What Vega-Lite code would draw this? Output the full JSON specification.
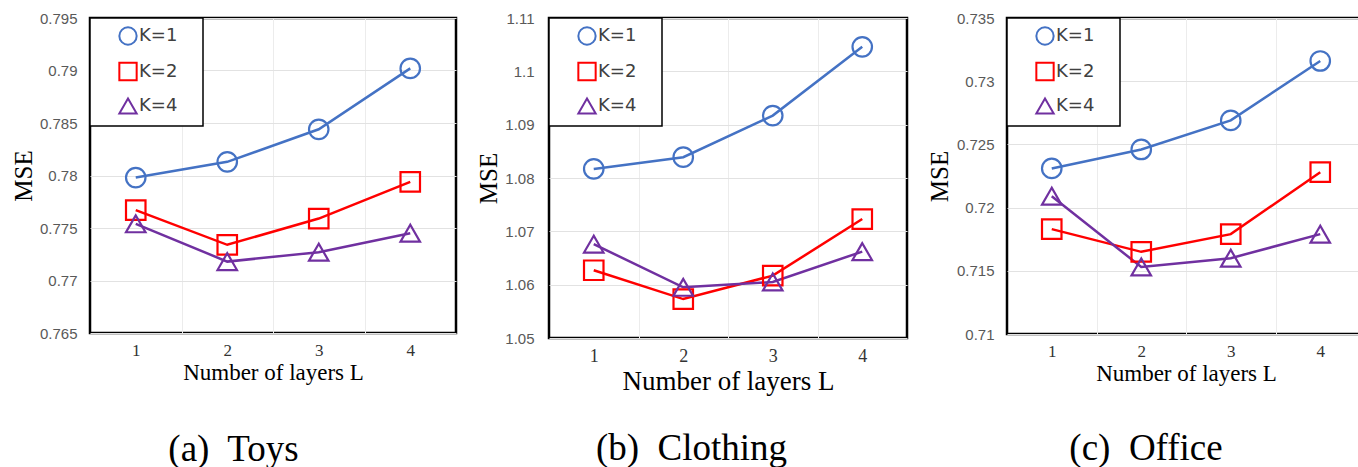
{
  "$schema": "https://vega.github.io/schema/vega-lite/v6.json",
  "background": "white",
  "padding": {"left": 9, "top": 9, "right": 0, "bottom": 0},
  "spacing": 16,
  "datasets": {
    "mse": [
      {"dataset": "Toys", "K": "K=1", "L": 1, "mse": 0.7798},
      {"dataset": "Toys", "K": "K=1", "L": 2, "mse": 0.7813},
      {"dataset": "Toys", "K": "K=1", "L": 3, "mse": 0.7844},
      {"dataset": "Toys", "K": "K=1", "L": 4, "mse": 0.7902},
      {"dataset": "Toys", "K": "K=2", "L": 1, "mse": 0.7767},
      {"dataset": "Toys", "K": "K=2", "L": 2, "mse": 0.7734},
      {"dataset": "Toys", "K": "K=2", "L": 3, "mse": 0.7759},
      {"dataset": "Toys", "K": "K=2", "L": 4, "mse": 0.7794},
      {"dataset": "Toys", "K": "K=4", "L": 1, "mse": 0.7754},
      {"dataset": "Toys", "K": "K=4", "L": 2, "mse": 0.7718},
      {"dataset": "Toys", "K": "K=4", "L": 3, "mse": 0.7727},
      {"dataset": "Toys", "K": "K=4", "L": 4, "mse": 0.7745},
      {"dataset": "Clothing", "K": "K=1", "L": 1, "mse": 1.0817},
      {"dataset": "Clothing", "K": "K=1", "L": 2, "mse": 1.0839},
      {"dataset": "Clothing", "K": "K=1", "L": 3, "mse": 1.0917},
      {"dataset": "Clothing", "K": "K=1", "L": 4, "mse": 1.1046},
      {"dataset": "Clothing", "K": "K=2", "L": 1, "mse": 1.0627},
      {"dataset": "Clothing", "K": "K=2", "L": 2, "mse": 1.0573},
      {"dataset": "Clothing", "K": "K=2", "L": 3, "mse": 1.0617},
      {"dataset": "Clothing", "K": "K=2", "L": 4, "mse": 1.0723},
      {"dataset": "Clothing", "K": "K=4", "L": 1, "mse": 1.0676},
      {"dataset": "Clothing", "K": "K=4", "L": 2, "mse": 1.0595},
      {"dataset": "Clothing", "K": "K=4", "L": 3, "mse": 1.0605},
      {"dataset": "Clothing", "K": "K=4", "L": 4, "mse": 1.0662},
      {"dataset": "Office", "K": "K=1", "L": 1, "mse": 0.7231},
      {"dataset": "Office", "K": "K=1", "L": 2, "mse": 0.7246},
      {"dataset": "Office", "K": "K=1", "L": 3, "mse": 0.7269},
      {"dataset": "Office", "K": "K=1", "L": 4, "mse": 0.7316},
      {"dataset": "Office", "K": "K=2", "L": 1, "mse": 0.7183},
      {"dataset": "Office", "K": "K=2", "L": 2, "mse": 0.7165},
      {"dataset": "Office", "K": "K=2", "L": 3, "mse": 0.7179},
      {"dataset": "Office", "K": "K=2", "L": 4, "mse": 0.7228},
      {"dataset": "Office", "K": "K=4", "L": 1, "mse": 0.7209},
      {"dataset": "Office", "K": "K=4", "L": 2, "mse": 0.7153},
      {"dataset": "Office", "K": "K=4", "L": 3, "mse": 0.7160},
      {"dataset": "Office", "K": "K=4", "L": 4, "mse": 0.7179}
    ]
  },
  "config": {
    "view": {"stroke": "black", "strokeWidth": 2.5},
    "axisY": {
      "ticks": false, "domain": false,
      "labelFont": "Liberation Sans", "labelFontSize": 15, "labelColor": "#595959", "labelPadding": 13,
      "minExtent": 54, "maxExtent": 54,
      "titleFont": "Liberation Serif", "titleFontSize": 25, "titleFontWeight": "normal", "titleColor": "black", "titlePadding": 0,
      "gridColor": "#e2e2e2", "gridWidth": 1
    },
    "axisX": {
      "ticks": false, "domain": false, "labelAngle": 0, "format": "d",
      "labelFont": "Liberation Serif", "labelFontSize": 17, "labelColor": "#333333", "labelPadding": 9,
      "titleFont": "Liberation Serif", "titleFontSize": 23, "titleFontWeight": "normal", "titleColor": "black", "titlePadding": 3,
      "gridColor": "#ececec", "gridWidth": 1
    },
    "legend": {
      "orient": "top-left", "offset": 0,
      "strokeColor": "black", "strokeWidth": 1.5, "fillColor": "white",
      "padding": 8, "rowPadding": 9.5, "symbolOffset": 20,
      "labelFont": "DejaVu Sans", "labelFontSize": 18, "labelColor": "#404040", "labelOffset": 1,
      "symbolSize": 300, "symbolStrokeWidth": 2, "symbolFillColor": "transparent",
      "titleOrient": "right", "titlePadding": 17, "titleFontSize": 2, "titleColor": "white"
    },
    "title": {
      "font": "Liberation Serif", "fontSize": 37, "fontWeight": "normal", "color": "black",
      "orient": "bottom", "frame": "bounds", "anchor": "middle"
    }
  },
  "hconcat": [
    {
      "width": 366, "height": 315,
      "data": {"name": "mse"},
      "transform": [{"filter": "datum.dataset == 'Toys'"}],
      "title": {"text": "(a)\u00a0 Toys", "offset": 48},
      "encoding": {
        "x": {"field": "L", "type": "quantitative", "scale": {"domain": [0.5, 4.5], "nice": false},
          "axis": {"title": "Number of layers L", "values": [1, 1.5, 2, 2.5, 3, 3.5, 4],
            "labelExpr": "datum.value % 1 == 0 ? datum.label : ''",
            "gridOpacity": {"condition": {"test": "datum.value % 1 != 0", "value": 1}, "value": 0}}},
        "y": {"field": "mse", "type": "quantitative", "scale": {"domain": [0.765, 0.795], "zero": false, "nice": false},
          "axis": {"title": "MSE", "values": [0.765, 0.77, 0.775, 0.78, 0.785, 0.79, 0.795], "format": ".3~f"}},
        "color": {"field": "K", "type": "nominal", "scale": {"domain": ["K=1", "K=2", "K=4"], "range": ["#4472C4", "#FF0000", "#7030A0"]},
          "legend": {"title": "."}}
      },
      "layer": [
        {"mark": {"type": "line", "strokeWidth": 2.5}},
        {"mark": {"type": "point", "filled": false, "size": 380, "strokeWidth": 2.2, "opacity": 1},
          "encoding": {"shape": {"field": "K", "type": "nominal", "scale": {"domain": ["K=1", "K=2", "K=4"], "range": ["circle", "square", "triangle-up"]}, "legend": {"title": "."}}}}
      ]
    },
    {
      "width": 358, "height": 320,
      "data": {"name": "mse"},
      "transform": [{"filter": "datum.dataset == 'Clothing'"}],
      "title": {"text": "(b)\u00a0 Clothing", "offset": 37},
      "encoding": {
        "x": {"field": "L", "type": "quantitative", "scale": {"domain": [0.5, 4.5], "nice": false},
          "axis": {"title": "Number of layers L", "titleFontSize": 27, "labelFontSize": 18, "values": [1, 1.5, 2, 2.5, 3, 3.5, 4],
            "labelExpr": "datum.value % 1 == 0 ? datum.label : ''",
            "gridOpacity": {"condition": {"test": "datum.value % 1 != 0", "value": 1}, "value": 0}}},
        "y": {"field": "mse", "type": "quantitative", "scale": {"domain": [1.05, 1.11], "zero": false, "nice": false},
          "axis": {"title": "MSE", "values": [1.05, 1.06, 1.07, 1.08, 1.09, 1.1, 1.11], "format": ".2~f", "labelPadding": 15, "minExtent": 47, "maxExtent": 47, "titlePadding": 1}},
        "color": {"field": "K", "type": "nominal", "scale": {"domain": ["K=1", "K=2", "K=4"], "range": ["#4472C4", "#FF0000", "#7030A0"]},
          "legend": {"title": "."}}
      },
      "layer": [
        {"mark": {"type": "line", "strokeWidth": 2.5}},
        {"mark": {"type": "point", "filled": false, "size": 380, "strokeWidth": 2.2, "opacity": 1},
          "encoding": {"shape": {"field": "K", "type": "nominal", "scale": {"domain": ["K=1", "K=2", "K=4"], "range": ["circle", "square", "triangle-up"]}, "legend": {"title": "."}}}}
      ]
    },
    {
      "width": 358, "height": 316,
      "data": {"name": "mse"},
      "transform": [{"filter": "datum.dataset == 'Office'"}],
      "title": {"text": "(c)\u00a0 Office", "offset": 46},
      "encoding": {
        "x": {"field": "L", "type": "quantitative", "scale": {"domain": [0.5, 4.5], "nice": false},
          "axis": {"title": "Number of layers L", "values": [1, 1.5, 2, 2.5, 3, 3.5, 4],
            "labelExpr": "datum.value % 1 == 0 ? datum.label : ''",
            "gridOpacity": {"condition": {"test": "datum.value % 1 != 0", "value": 1}, "value": 0}}},
        "y": {"field": "mse", "type": "quantitative", "scale": {"domain": [0.71, 0.735], "zero": false, "nice": false},
          "axis": {"title": "MSE", "values": [0.71, 0.715, 0.72, 0.725, 0.73, 0.735], "format": ".3~f", "titlePadding": 1}},
        "color": {"field": "K", "type": "nominal", "scale": {"domain": ["K=1", "K=2", "K=4"], "range": ["#4472C4", "#FF0000", "#7030A0"]},
          "legend": {"title": "."}}
      },
      "layer": [
        {"mark": {"type": "line", "strokeWidth": 2.5}},
        {"mark": {"type": "point", "filled": false, "size": 380, "strokeWidth": 2.2, "opacity": 1},
          "encoding": {"shape": {"field": "K", "type": "nominal", "scale": {"domain": ["K=1", "K=2", "K=4"], "range": ["circle", "square", "triangle-up"]}, "legend": {"title": "."}}}}
      ]
    }
  ],
  "resolve": {"scale": {"color": "independent", "shape": "independent"}, "legend": {"color": "independent", "shape": "independent"}}
}
